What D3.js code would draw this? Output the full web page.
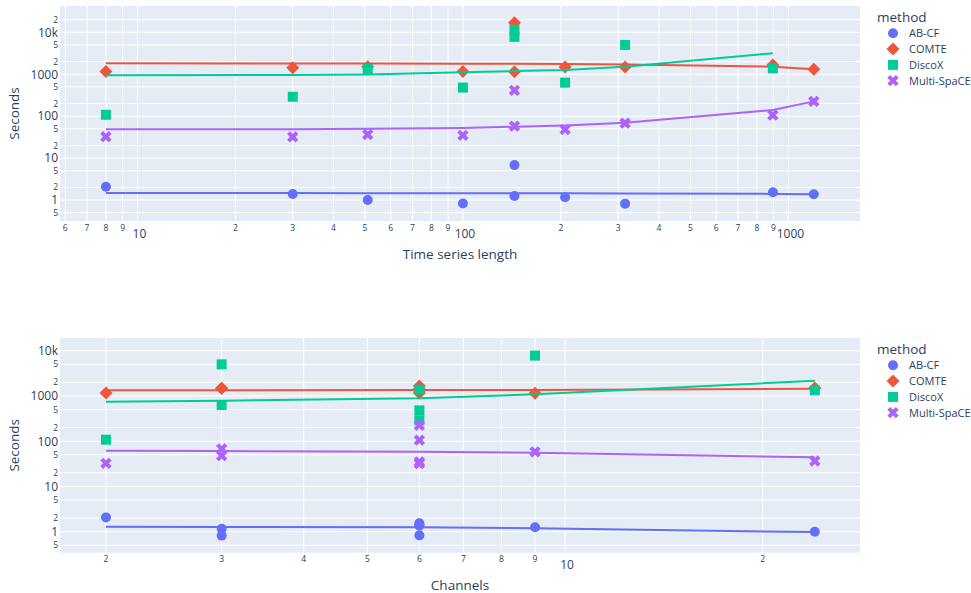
<!DOCTYPE html>
<html>
<head>
<meta charset="utf-8">
<script src="https://cdn.jsdelivr.net/npm/d3@7"></script>
<style>
  body { margin: 0; background: #fff; }
  svg { display: block; font-family: "Open Sans", sans-serif; }
</style>
</head>
<body>
<div id="chart"></div>
<script>
// data (one entry per dataset)
var methods = ["AB-CF", "COMTE", "DiscoX", "Multi-SpaCE"];
var seriesLength = [8, 30, 51, 100, 144, 144, 206, 315, 896, 1197];
var channels = [2, 6, 24, 6, 9, null, 3, 3, 6, 6];
var abcfSeconds = [2.07, 1.39, 1.0, 0.83, 1.25, 6.8, 1.16, 0.82, 1.53, 1.37];
var comteSeconds = [1160, 1430, 1500, 1160, 1150, 16900, 1480, 1480, 1650, 1310];
var discoxSeconds = [108, 290, 1330, 480, 7800, 11500, 630, 5000, 1380, null];
var multiSeconds = [32.5, 32, 36.5, 35, 58, 413, 48, 68, 106, 225];

// trend lines (read at each x)
var trendLenX = [8, 30, 51, 100, 144, 206, 315, 896, 1197];
var abcfTrendLen = [1.47, 1.47, 1.46, 1.46, 1.45, 1.45, 1.44, 1.40, 1.37];
var comteTrendLen = [1820, 1810, 1800, 1780, 1770, 1750, 1700, 1510, 1320];
var discoxTrendLen = [942, 960, 980, 1110, 1190, 1260, 1500, 3160];
var multiTrendLen = [48.5, 49, 50, 52, 56, 60, 70, 140, 225];

var trendChX = [2, 3, 6, 9, 24];
var abcfTrendCh = [1.29, 1.27, 1.25, 1.19, 0.98];
var comteTrendCh = [1333, 1337, 1350, 1360, 1445];
var discoxTrendCh = [746, 785, 887, 1087, 2170];
var multiTrendCh = [61.7, 60.5, 58.6, 55.7, 44];

// ticks
var yTicks = [0.5, 1, 2, 5, 10, 20, 50, 100, 200, 500, 1000, 2000, 5000, 10000, 20000];
var xTicksLen = [6, 7, 8, 9, 10, 20, 30, 40, 50, 60, 70, 80, 90, 100, 200, 300, 400, 500, 600, 700, 800, 900, 1000];
var xTicksCh = [2, 3, 4, 5, 6, 7, 8, 9, 10, 20];

var colors = ["#636efa", "#EF553B", "#00cc96", "#ab63fa"];
var seconds = [abcfSeconds, comteSeconds, discoxSeconds, multiSeconds];

var W = 971, H = 593;
var left = 60, right = 860;
var textColor = "#2a3f5f";

var svg = d3.select("#chart").append("svg")
    .attr("width", W)
    .attr("height", H);

// plotly-like marker paths
function markerPath(i, r) {
    if (i == 0) {
        return "M" + r + ",0A" + r + "," + r + " 0 1,1 0,-" + r + "A" + r + "," + r + " 0 0,1 " + r + ",0Z";
    } else if (i == 1) {
        var rd = r * 1.3;
        return "M" + rd + ",0L0," + rd + "L-" + rd + ",0L0,-" + rd + "Z";
    } else if (i == 2) {
        return "M" + r + "," + r + "H-" + r + "V-" + r + "H" + r + "Z";
    }
    var rx = r * 0.8 / Math.SQRT2;
    var ne = "l" + rx + "," + rx, se = "l" + rx + ",-" + rx,
        sw = "l-" + rx + ",-" + rx, nw = "l-" + rx + "," + rx;
    return "M0," + rx + ne + se + sw + se + sw + nw + sw + nw + ne + nw + ne + "Z";
}

function isMajor(v) {
    var l = Math.log10(v);
    return Math.abs(l - Math.round(l)) < 1e-9;
}
function firstDigit(v) {
    return String(Math.round(v / Math.pow(10, Math.floor(Math.log10(v) + 1e-9))));
}
function yLabel(v) {
    if (!isMajor(v)) return firstDigit(v);
    return v >= 10000 ? (v / 1000) + "k" : String(v);
}

function panel(cfg) {
    var x = d3.scaleLog().domain(cfg.xDomain).range([left, right]);
    var y = d3.scaleLog().domain(cfg.yDomain).range([cfg.bottom, cfg.top]);
    var g = svg.append("g");

    g.append("rect")
        .attr("x", left).attr("y", cfg.top)
        .attr("width", right - left).attr("height", cfg.bottom - cfg.top)
        .attr("fill", "#E5ECF6");

    // grid
    g.selectAll(".gx").data(cfg.xTicks).enter().append("line")
        .attr("x1", function (d) { return x(d); })
        .attr("x2", function (d) { return x(d); })
        .attr("y1", cfg.top).attr("y2", cfg.bottom)
        .attr("stroke", "#fff").attr("stroke-width", 1);
    var yt = yTicks.filter(function (d) { return y(d) >= cfg.top && y(d) <= cfg.bottom; });
    g.selectAll(".gy").data(yt).enter().append("line")
        .attr("x1", left).attr("x2", right)
        .attr("y1", function (d) { return y(d); })
        .attr("y2", function (d) { return y(d); })
        .attr("stroke", "#fff").attr("stroke-width", 1);

    // x tick labels
    g.selectAll(".tx").data(cfg.xTicks).enter().append("text")
        .attr("x", function (d) { return x(d) + (isMajor(d) ? 2 : 0); })
        .attr("y", function (d) { return cfg.bottom + (isMajor(d) ? 16.5 : 9.5); })
        .attr("text-anchor", "middle")
        .attr("font-size", function (d) { return isMajor(d) ? "12px" : "8.5px"; })
        .attr("fill", textColor)
        .text(function (d) { return isMajor(d) ? d : firstDigit(d); });

    // y tick labels
    g.selectAll(".ty").data(yt).enter().append("text")
        .attr("x", 58)
        .attr("y", function (d) { return y(d); })
        .attr("dy", "0.36em")
        .attr("text-anchor", "end")
        .attr("font-size", function (d) { return isMajor(d) ? "12px" : "8.5px"; })
        .attr("fill", textColor)
        .text(yLabel);

    // axis titles
    g.append("text")
        .attr("x", (left + right) / 2)
        .attr("y", cfg.bottom + 37.5)
        .attr("text-anchor", "middle")
        .attr("font-size", "13.5px")
        .attr("fill", textColor)
        .text(cfg.xTitle);
    g.append("text")
        .attr("transform", "translate(18.5," + ((cfg.top + cfg.bottom) / 2) + ") rotate(-90)")
        .attr("text-anchor", "middle")
        .attr("font-size", "13.5px")
        .attr("fill", textColor)
        .text("Seconds");

    // points then trend, per method
    var line = d3.line()
        .x(function (d) { return x(d[0]); })
        .y(function (d) { return y(d[1]); });

    methods.forEach(function (m, i) {
        var pts = [];
        cfg.xs.forEach(function (xv, k) {
            if (xv != null && seconds[i][k] != null) pts.push([xv, seconds[i][k]]);
        });
        g.append("g").selectAll("path").data(pts).enter().append("path")
            .attr("transform", function (d) { return "translate(" + x(d[0]) + "," + y(d[1]) + ")"; })
            .attr("d", markerPath(i, 5))
            .attr("fill", colors[i]);

        var tr = cfg.trends[i].map(function (v, k) { return [cfg.trendX[k], v]; });
        g.append("path")
            .datum(tr)
            .attr("d", line)
            .attr("fill", "none")
            .attr("stroke", colors[i])
            .attr("stroke-width", 2);
    });

    // legend
    var lg = g.append("g");
    lg.append("text")
        .attr("x", 877).attr("y", cfg.legendTop + 5)
        .attr("font-size", "13.5px")
        .attr("fill", textColor)
        .text("method");
    methods.forEach(function (m, i) {
        var cy = cfg.legendTop + 16.3 + i * 15.8;
        lg.append("path")
            .attr("transform", "translate(893," + cy + ")")
            .attr("d", markerPath(i, 5))
            .attr("fill", colors[i]);
        lg.append("text")
            .attr("x", 909).attr("y", cy + 4)
            .attr("font-size", "11px")
            .attr("fill", textColor)
            .text(m);
    });
}

panel({
    top: 6, bottom: 221,
    xDomain: [Math.pow(10, 0.762), Math.pow(10, 3.22)],
    yDomain: [Math.pow(10, -0.5), Math.pow(10, 4.627)],
    xTicks: xTicksLen,
    xs: seriesLength,
    trendX: trendLenX,
    trends: [abcfTrendLen, comteTrendLen, discoxTrendLen, multiTrendLen],
    xTitle: "Time series length",
    legendTop: 17
});

panel({
    top: 338, bottom: 552.7,
    xDomain: [Math.pow(10, 0.231), Math.pow(10, 1.449)],
    yDomain: [Math.pow(10, -0.464), Math.pow(10, 4.281)],
    xTicks: xTicksCh,
    xs: channels,
    trendX: trendChX,
    trends: [abcfTrendCh, comteTrendCh, discoxTrendCh, multiTrendCh],
    xTitle: "Channels",
    legendTop: 349
});
</script>
</body>
</html>
